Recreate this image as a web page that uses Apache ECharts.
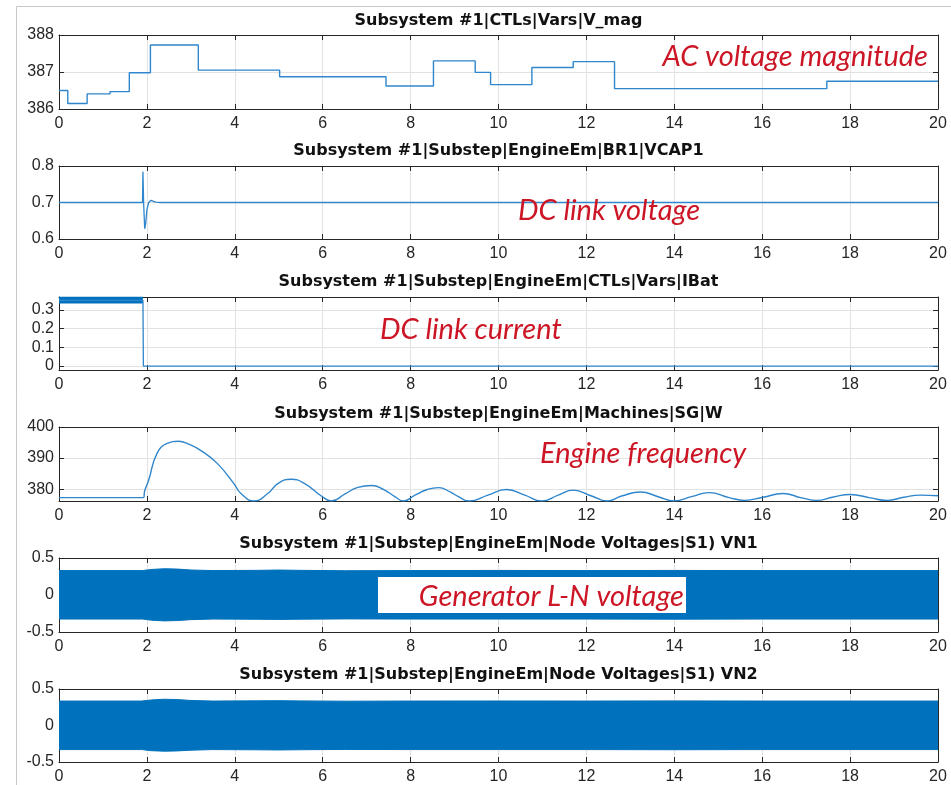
<!DOCTYPE html>
<html><head><meta charset="utf-8">
<script src="https://cdn.jsdelivr.net/npm/echarts@6/dist/echarts.min.js"></script>
<style>html,body{margin:0;padding:0;background:#fff}#c{width:951px;height:785px}</style>
</head><body><div id="c"></div>
<script>
// ---- data ----
const titles = [
  'Subsystem #1|CTLs|Vars|V_mag',
  'Subsystem #1|Substep|EngineEm|BR1|VCAP1',
  'Subsystem #1|Substep|EngineEm|CTLs|Vars|IBat',
  'Subsystem #1|Substep|EngineEm|Machines|SG|W',
  'Subsystem #1|Substep|EngineEm|Node Voltages|S1) VN1',
  'Subsystem #1|Substep|EngineEm|Node Voltages|S1) VN2'
];
const notes = ['AC voltage magnitude','DC link voltage','DC link current','Engine frequency','Generator L-N voltage'];

const vmagT = [0,0.2,0.64,1.16,1.6,2.08,3.17,5.02,7.44,8.52,9.47,9.82,10.76,11.70,12.64,17.47,20];
const vmagV = [386.50,386.15,386.41,386.47,386.98,387.73,387.05,386.87,386.62,387.30,386.99,386.66,387.12,387.28,386.55,386.75,386.75];

const vcapT = [0,1.90,1.91,1.925,1.95,1.97,2.0,2.04,2.09,2.2,2.3,20];
const vcapV = [0.700,0.700,0.784,0.700,0.628,0.640,0.680,0.700,0.706,0.701,0.700,0.700];

const ibatT = [0,1.91,1.92,20];
const ibatV = [0.35,0.35,0.0,0.0];
const ibatBandT = [0,1.91];
const ibatBandHi = [0.368,0.368];
const ibatBandLo = 0.333;

const wT = [0,1.92,1.95,2.04,2.23,2.46,2.72,2.95,3.22,3.6,3.98,4.14,4.44,4.75,4.98,5.28,5.59,5.97,6.2,6.5,6.8,7.11,7.4,7.65,7.84,8.1,8.38,8.64,8.9,9.1,9.33,9.76,10.18,10.6,10.98,11.36,11.7,12.12,12.47,12.8,13.23,13.65,13.99,14.41,14.79,15.25,15.6,16.02,16.47,16.9,17.24,17.62,18.0,18.46,18.84,19.22,19.6,20];
const wV = [377.3,377.3,379.5,382.9,391.5,394.7,395.4,394.5,392.5,388.3,381.8,378.6,376.2,378.6,381.8,383.2,381.8,377.8,376.2,378.4,380.6,381.2,379.8,377.5,376.2,378.1,379.9,380.5,379.1,377.5,376.2,378.1,379.9,378.1,376.2,378.1,379.7,377.8,376.2,377.8,379.1,377.5,376.2,377.7,378.9,377.3,376.4,377.4,378.6,377.2,376.4,377.5,378.3,377.2,376.4,377.4,378.1,377.9];

const vn1T  = [0,1.9,2.1,2.4,2.7,3.0,3.5,4.5,5.0,5.5,6.5,8,10,12,14,16,18,20];
const vn1Hi = [0.33,0.33,0.345,0.355,0.35,0.338,0.33,0.333,0.337,0.333,0.328,0.33,0.332,0.33,0.332,0.33,0.33,0.33];
const vn1Lo = [-0.325,-0.325,-0.34,-0.35,-0.345,-0.333,-0.325,-0.328,-0.33,-0.327,-0.323,-0.325,-0.325,-0.325,-0.327,-0.325,-0.325,-0.325];
const vn2T  = [0,1.88,1.9,1.92,2.1,2.4,2.7,3.0,3.5,4.5,5.0,5.5,6.5,8,10,12,14,16,18,20];
const vn2Hi = [0.335,0.335,0.35,0.336,0.35,0.36,0.355,0.343,0.335,0.338,0.34,0.337,0.333,0.335,0.336,0.335,0.337,0.335,0.335,0.335];
const vn2Lo = [-0.33,-0.33,-0.33,-0.33,-0.345,-0.352,-0.348,-0.338,-0.33,-0.333,-0.335,-0.332,-0.328,-0.33,-0.33,-0.33,-0.332,-0.33,-0.33,-0.33];

const yRanges = [
  {min:386, max:388, interval:1},
  {min:0.6, max:0.8, interval:0.1},
  {min:-0.021, max:0.368, custom:[0,0.1,0.2,0.3]},
  {min:376.2, max:400, custom:[380,390,400]},
  {min:-0.5, max:0.5, interval:0.5},
  {min:-0.5, max:0.5, interval:0.5}
];

// ---- layout ----
const L = 59, R = 951 - 938;
const panels = [{top:35,h:74},{top:166,h:73},{top:297,h:73},{top:427,h:74},{top:558,h:74},{top:689,h:73}];
const titleY = [21,151,282,414,544,675];
const AX = '#262626', GRID = '#e2e2e2', BLUE = '#0072BD', LINE = '#2f86cc';
const zip = (a,b) => a.map((t,i)=>[t,b[i]]);

const grid=[], xAxis=[], yAxis=[];
panels.forEach((p,i)=>{
  grid.push({left:L, right:R, top:p.top, height:p.h});
  const tick = {inside:true, length:5, lineStyle:{color:AX}};
  const line = {show:true, onZero:false, lineStyle:{color:AX, width:1}};
  const lab = {color:AX, fontSize:16, fontFamily:'Liberation Sans, Arial', margin:7};
  xAxis.push({type:'value', gridIndex:i, min:0, max:20, interval:2, position:'bottom',
    axisLine:line, axisTick:tick, axisLabel:lab, splitLine:{show:true, lineStyle:{color:GRID}}});
  xAxis.push({type:'value', gridIndex:i, min:0, max:20, interval:2, position:'top',
    axisLine:line, axisTick:tick, axisLabel:{show:false}, splitLine:{show:false}});
  const yr = yRanges[i];
  const mk = (pos, labels)=>{
    const a = {type:'value', gridIndex:i, min:yr.min, max:yr.max, position:pos,
      axisLine:line, axisTick:Object.assign({}, tick),
      axisLabel: labels ? Object.assign({}, lab, {margin:5}) : {show:false},
      splitLine: labels ? {show:true, lineStyle:{color:GRID}} : {show:false}};
    if (yr.custom) {
      a.axisTick.customValues = yr.custom;
      if (labels) a.axisLabel.customValues = yr.custom;
    } else a.interval = yr.interval;
    return a;
  };
  yAxis.push(mk('left', true));
  yAxis.push(mk('right', false));
});

const base = (i)=>({type:'line', xAxisIndex:2*i, yAxisIndex:2*i, showSymbol:false, symbol:'none', animation:false, silent:true});
const band = (i, t, v, origin)=>Object.assign(base(i), {data:zip(t,v), lineStyle:{color:BLUE, width:1}, areaStyle:{color:BLUE, opacity:1, origin}});
const series = [
  Object.assign(base(0), {data:zip(vmagT,vmagV), step:'end', lineStyle:{color:LINE, width:1.4}}),
  Object.assign(base(1), {data:zip(vcapT,vcapV), lineStyle:{color:LINE, width:1.3}}),
  band(2, ibatBandT, ibatBandHi, ibatBandLo),
  Object.assign(base(2), {data:zip(ibatT,ibatV), lineStyle:{color:LINE, width:1.3}}),
  Object.assign(base(3), {data:zip(wT,wV), smooth:0.5, lineStyle:{color:LINE, width:1.4}}),
  band(4, vn1T, vn1Hi, -0.05), band(4, vn1T, vn1Lo, 0.05),
  band(5, vn2T, vn2Hi, -0.05), band(5, vn2T, vn2Lo, 0.05)
];

const RED = '#cc1525';
const noteFont = 'italic 29px Lato, "Open Sans", sans-serif';
const graphic = [
  {type:'line', shape:{x1:16.5,y1:6.5,x2:951,y2:6.5}, style:{stroke:'#c8c8c8', lineWidth:1}, silent:true},
  {type:'line', shape:{x1:16.5,y1:6.5,x2:16.5,y2:785}, style:{stroke:'#c8c8c8', lineWidth:1}, silent:true},
  {type:'rect', shape:{x:378,y:577,width:308,height:36}, style:{fill:'#fff'}, z:100, silent:true}
];
titles.forEach((t,i)=>graphic.push({type:'text', x:498.5, y:titleY[i], z:100, silent:true,
  style:{text:t, font:'bold 16px "DejaVu Sans"', fill:'#111', align:'center', verticalAlign:'middle'}}));
const notePos = [[928,57,'right'],[518,211,'left'],[380,330,'left'],[540,454,'left'],[684,597,'right']];
notes.forEach((t,i)=>graphic.push({type:'text', x:notePos[i][0], y:notePos[i][1], z:101, silent:true,
  style:{text:t, font:noteFont, fill:RED, align:notePos[i][2], verticalAlign:'middle'}}));

const chart = echarts.init(document.getElementById('c'), null, {renderer:'canvas'});
chart.setOption({animation:false, backgroundColor:'#fff', grid, xAxis, yAxis, series, graphic});
</script></body></html>
